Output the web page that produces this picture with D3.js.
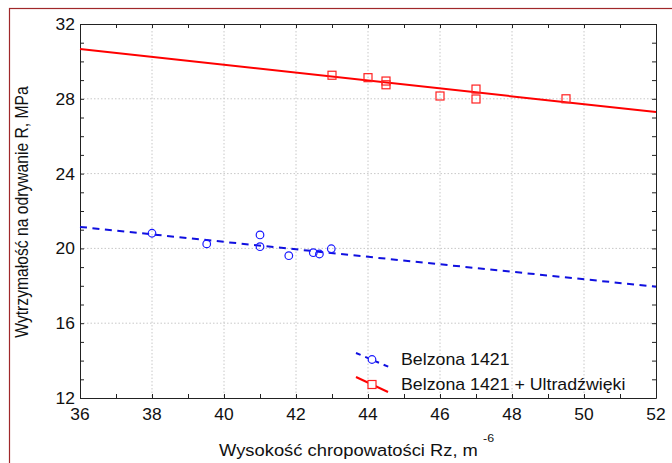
<!DOCTYPE html>
<html><head><meta charset="utf-8">
<script src="https://cdn.jsdelivr.net/npm/d3@7"></script>
<style>body{margin:0;background:#fff}svg{display:block}text{font-family:"Liberation Sans",Arial,sans-serif}</style>
</head><body>
<script>
const xTicks = [36,38,40,42,44,46,48,50,52];
const yTicks = [12,16,20,24,28,32];
const blueX = [38.0, 39.52, 41.0, 41.0, 41.8, 42.48, 42.65, 42.98];
const blueY = [20.81, 20.24, 20.72, 20.09, 19.61, 19.77, 19.70, 19.98];
const redX = [43.0, 44.0, 44.5, 44.5, 46.0, 47.0, 47.0, 49.5];
const redY = [29.26, 29.13, 28.95, 28.75, 28.15, 28.52, 27.99, 28.0];
const blueFitX = [36, 52];
const blueFitY = [21.15, 17.95];
const redFitX = [36, 52];
const redFitY = [30.66, 27.29];
const seriesNames = ["Belzona 1421", "Belzona 1421 + Ultradźwięki"];

const W = 672, H = 463;
const svg = d3.select("body").append("svg").attr("width", W).attr("height", H);
svg.append("rect").attr("x", 9.5).attr("y", 8.5).attr("width", 700).attr("height", 500)
  .attr("fill", "none").attr("stroke", "#a0282a").attr("stroke-width", 1.2);

const x = d3.scaleLinear().domain([36, 52]).range([80, 656]);
const y = d3.scaleLinear().domain([12, 32]).range([398, 24]);

// helper: horizontally stretched text
function stext(parent, tx, ty, sx, size, anchor, str) {
  return parent.append("text")
    .attr("transform", `translate(${tx},${ty}) scale(${sx},1)`)
    .attr("text-anchor", anchor).attr("font-size", size).attr("fill", "#111").text(str);
}

// grid
const g = svg.append("g");
g.selectAll(".gx").data(xTicks.slice(1, -1)).join("line")
  .attr("x1", d => x(d)).attr("x2", d => x(d)).attr("y1", y(32)).attr("y2", y(12))
  .attr("stroke", "#c8c8c8").attr("stroke-dasharray", "1.5,2");
g.selectAll(".gy").data(yTicks.slice(1, -1)).join("line")
  .attr("y1", d => y(d)).attr("y2", d => y(d)).attr("x1", x(36)).attr("x2", x(52))
  .attr("stroke", "#c8c8c8").attr("stroke-dasharray", "1.5,2");

// axes with inward ticks
const minorX = d3.range(36, 53, 1), minorY = d3.range(12, 33, 1);
svg.append("g").attr("transform", `translate(0,${y(12)})`)
  .call(d3.axisBottom(x).tickValues(minorX).tickSize(-4).tickFormat("").tickSizeOuter(0))
  .call(s => s.selectAll("line,path").attr("stroke", "#222"));
svg.append("g").attr("transform", `translate(0,${y(32)})`)
  .call(d3.axisTop(x).tickValues(minorX).tickSize(-4).tickFormat("").tickSizeOuter(0))
  .call(s => s.selectAll("line,path").attr("stroke", "#222"));
svg.append("g").attr("transform", `translate(${x(36)},0)`)
  .call(d3.axisLeft(y).tickValues(minorY).tickSize(-4).tickFormat("").tickSizeOuter(0))
  .call(s => s.selectAll("line,path").attr("stroke", "#222"));
svg.append("g").attr("transform", `translate(${x(52)},0)`)
  .call(d3.axisRight(y).tickValues(minorY).tickSize(-4).tickFormat("").tickSizeOuter(0))
  .call(s => s.selectAll("line,path").attr("stroke", "#222"));

// tick labels
const xl = svg.append("g");
xTicks.forEach(d => stext(xl, x(d), 420, 1.09, 16, "middle", d));
const yl = svg.append("g");
yTicks.forEach(d => stext(yl, 75, y(d) + 6, 1.09, 16, "end", d));

// axis titles
const xt = svg.append("text").attr("transform", "translate(219,456) scale(1.08,1)")
  .attr("font-size", 17).attr("fill", "#111");
xt.append("tspan").text("Wysokość chropowatości Rz, m ");
xt.append("tspan").attr("font-size", 11.5).attr("dy", -14).text("-6");
svg.append("text").attr("transform", "translate(28,212) rotate(-90) scale(0.98,1.1)").attr("text-anchor", "middle")
  .attr("font-size", 16).attr("fill", "#111").text("Wytrzymałość na odrywanie R, MPa");

// fit lines
const line = d3.line().x(d => x(d[0])).y(d => y(d[1]));
svg.append("path").datum(d3.zip(blueFitX, blueFitY)).attr("d", line)
  .attr("fill", "none").attr("stroke", "#1010e0").attr("stroke-width", 2).attr("stroke-dasharray", "7,5.5");
svg.append("path").datum(d3.zip(redFitX, redFitY)).attr("d", line)
  .attr("fill", "none").attr("stroke", "#ff0000").attr("stroke-width", 2);

// points
svg.append("g").selectAll("circle").data(d3.zip(blueX, blueY)).join("circle")
  .attr("cx", d => x(d[0])).attr("cy", d => y(d[1])).attr("r", 3.8)
  .attr("fill", "none").attr("stroke", "#1a1aff").attr("stroke-width", 1.2);
svg.append("g").selectAll("rect").data(d3.zip(redX, redY)).join("rect")
  .attr("x", d => x(d[0]) - 4).attr("y", d => y(d[1]) - 4).attr("width", 8).attr("height", 8)
  .attr("fill", "none").attr("stroke", "#ff2020").attr("stroke-width", 1.2);

// legend
const lg = svg.append("g");
lg.append("line").attr("x1", 356).attr("y1", 353).attr("x2", 389).attr("y2", 367)
  .attr("stroke", "#1010e0").attr("stroke-width", 2).attr("stroke-dasharray", "5,5");
lg.append("circle").attr("cx", 372).attr("cy", 359.5).attr("r", 3.8)
  .attr("fill", "#fff").attr("stroke", "#1a1aff").attr("stroke-width", 1.2);
stext(lg, 401, 365, 1.11, 16, "start", seriesNames[0]);
lg.append("line").attr("x1", 356).attr("y1", 377).attr("x2", 388).attr("y2", 392)
  .attr("stroke", "#ff0000").attr("stroke-width", 2);
lg.append("rect").attr("x", 368).attr("y", 380.5).attr("width", 8).attr("height", 8)
  .attr("fill", "#fff").attr("stroke", "#ff2020").attr("stroke-width", 1.2);
stext(lg, 401, 390, 1.11, 16, "start", seriesNames[1]);
</script>
</body></html>
